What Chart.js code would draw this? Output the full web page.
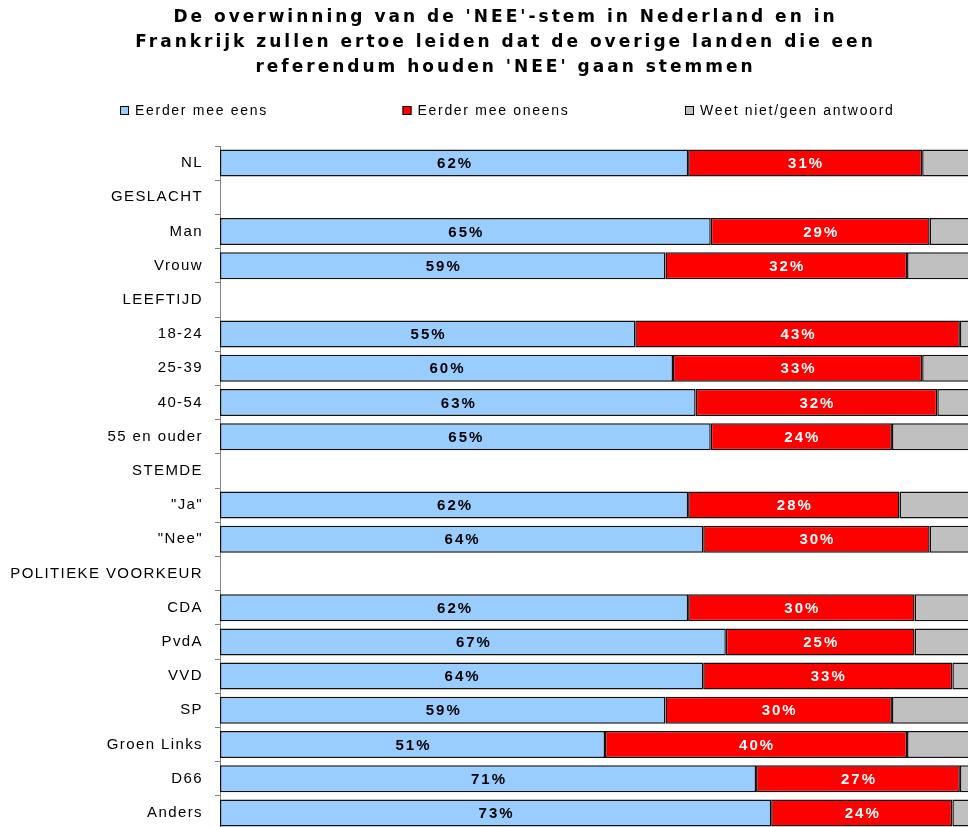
<!DOCTYPE html>
<html>
<head>
<meta charset="utf-8">
<script src="https://cdn.jsdelivr.net/npm/chart.js@4.4.0/dist/chart.umd.min.js"></script>
<style>
  html, body { margin: 0; padding: 0; background: #fff; overflow: hidden; }
  #wrap { width: 968px; height: 827px; overflow: hidden; }
  canvas { display: block; }
</style>
</head>
<body>
<div id="wrap"><canvas id="myChart" width="980" height="832"></canvas></div>
<script>
const categories = [
  'NL', 'GESLACHT', 'Man', 'Vrouw', 'LEEFTIJD', '18-24', '25-39', '40-54', '55 en ouder',
  'STEMDE', '"Ja"', '"Nee"', 'POLITIEKE VOORKEUR', 'CDA', 'PvdA', 'VVD', 'SP',
  'Groen Links', 'D66', 'Anders'
];
const eens     = [62, null, 65, 59, null, 55, 60, 63, 65, null, 62, 64, null, 62, 67, 64, 59, 51, 71, 73];
const oneens   = [31, null, 29, 32, null, 43, 33, 32, 24, null, 28, 30, null, 30, 25, 33, 30, 40, 27, 24];
const weetNiet = [7, null, 6, 9, null, 2, 7, 5, 11, null, 10, 6, null, 8, 8, 3, 11, 9, 2, 3];

const FONT = '"Liberation Sans", Arial, sans-serif';

// excel-ish wide text: canvas letterSpacing, title gets its own spacing + shift
const spacing = {
  id: 'spacing',
  afterInit(chart) {
    const t = chart.titleBlock;
    const draw = t.draw;
    t.draw = function () {
      const c = this.ctx;
      const prev = c.letterSpacing;
      c.save();
      c.translate(18, 0);
      c.letterSpacing = '3px';
      draw.call(this);
      c.restore();
      c.letterSpacing = prev;
    };
  },
  beforeUpdate(chart) { chart.ctx.letterSpacing = '1.4px'; },
  beforeDraw(chart) { chart.ctx.letterSpacing = '1.4px'; }
};

// percentages inside the blue and red parts
const barLabels = {
  id: 'barLabels',
  afterDatasetsDraw(chart) {
    const ctx = chart.ctx;
    ctx.save();
    ctx.font = 'bold 15px ' + FONT;
    ctx.letterSpacing = '2px';
    ctx.textAlign = 'center';
    ctx.textBaseline = 'middle';
    chart.data.datasets.forEach((ds, i) => {
      if (!ds.valueColor) return;
      chart.getDatasetMeta(i).data.forEach((bar, j) => {
        const v = ds.data[j];
        if (v == null) return;
        const p = bar.getCenterPoint();
        ctx.fillStyle = ds.valueColor;
        ctx.fillText(v + '%', p.x + 1, p.y + 1);
      });
    });
    ctx.restore();
  }
};

// legend items spread evenly over the width
const spreadLegend = {
  id: 'spreadLegend',
  afterDraw(chart, args, opts) {
    const ctx = chart.ctx;
    ctx.save();
    ctx.font = '14px ' + FONT;
    ctx.letterSpacing = '1.7px';
    ctx.textBaseline = 'middle';
    chart.data.datasets.forEach((ds, i) => {
      const x = opts.start + i * opts.step;
      ctx.fillStyle = ds.backgroundColor;
      ctx.fillRect(x, opts.y - 4, 9, 9);
      ctx.strokeStyle = '#000';
      ctx.lineWidth = 1;
      ctx.strokeRect(x + 0.5, opts.y - 3.5, 8, 8);
      ctx.fillStyle = '#000';
      ctx.fillText(ds.label, x + 15, opts.y + 1);
    });
    ctx.restore();
  }
};

const ctx = document.getElementById('myChart').getContext('2d');
const chart = new Chart(ctx, {
  type: 'bar',
  data: {
    labels: categories,
    datasets: [
      { label: 'Eerder mee eens', data: eens, backgroundColor: '#99CCFF', valueColor: '#000' },
      { label: 'Eerder mee oneens', data: oneens, backgroundColor: '#FF0000', valueColor: '#fff' },
      { label: 'Weet niet/geen antwoord', data: weetNiet, backgroundColor: '#C0C0C0' }
    ]
  },
  options: {
    indexAxis: 'y',
    responsive: false,
    animation: false,
    layout: { padding: { left: 0, right: 5, top: 0, bottom: 2 } },
    datasets: {
      bar: {
        categoryPercentage: 1,
        barPercentage: 0.79,
        borderColor: '#111',
        borderWidth: 1.5,
        borderSkipped: false
      }
    },
    scales: {
      x: { stacked: true, min: 0, max: 100, display: false },
      y: {
        stacked: true,
        grid: { offset: true, drawOnChartArea: false, tickLength: 5, color: '#808080' },
        border: { display: true, color: '#808080', width: 1 },
        ticks: { autoSkip: false, padding: 12, color: '#000', font: { family: FONT, size: 15 } },
        afterFit(scale) {
          scale.width = 220;
          scale.paddingTop = 0;
          scale.paddingBottom = 0;
        }
      }
    },
    plugins: {
      legend: { display: false },
      tooltip: { enabled: false },
      title: {
        display: true,
        text: [
          "De overwinning van de 'NEE'-stem in Nederland en in",
          'Frankrijk zullen ertoe leiden dat de overige landen die een',
          "referendum houden 'NEE' gaan stemmen"
        ],
        color: '#000',
        font: { family: '"DejaVu Sans", Verdana, sans-serif', size: 17, weight: 'bold', lineHeight: 25 / 17 },
        padding: { top: 5, bottom: 66 }
      },
      spreadLegend: { start: 120, step: 282.5, y: 110 }
    }
  },
  plugins: [spacing, barLabels, spreadLegend]
});
</script>
</body>
</html>
